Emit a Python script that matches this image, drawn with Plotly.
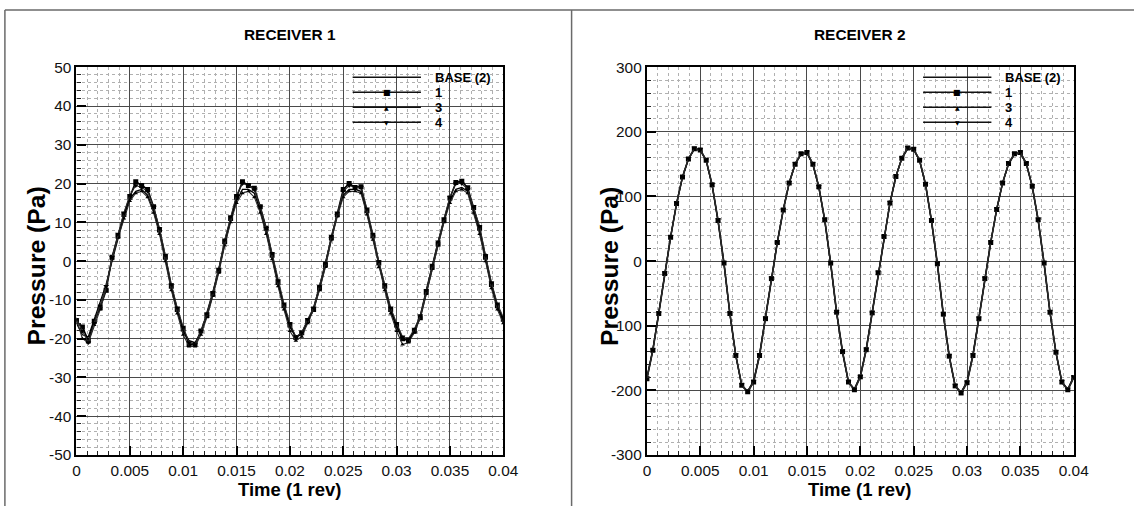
import plotly.graph_objects as go

# ---------------- data ----------------
N_STEPS = 72          # samples per 0.04 s (1 rev)
T_END = 0.04
time = [T_END * i / N_STEPS for i in range(N_STEPS + 1)]

series_names = ["BASE (2)", "1", "3", "4"]

r1_base = [-16, -19, -19.5, -15, -11, -6, 0, 6, 11.5, 16, 18, 18.5, 17, 13, 7.5, 0.5, -7, -13, -18,
           -20.5, -21, -18.5, -13.5, -8, -2, 4.5, 10.5, 15.5, 18.5, 18.5, 17.5, 13, 7.5, 1, -6, -12, -17,
           -19.5, -19, -15.5, -12, -6.5, -0.5, 6, 12, 17, 18.5, 18.5, 18, 12.5, 6, -1, -7, -13, -17,
           -20, -20.5, -18, -14, -7.5, -1, 5, 10.5, 15.5, 18.5, 19, 18, 13, 7.5, 0.5, -6.5, -12, -15.5]
r1_s1 = [-15.5, -17, -20.5, -15.5, -12, -7.5, 1, 6.5, 12, 16.5, 20.5, 19.5, 18.5, 14, 8, 1, -6.5, -12.5, -17.5,
         -21.5, -21.5, -18, -14, -8.5, -2.5, 5, 11, 16.5, 20.5, 19.5, 18.8, 14, 8.5, 1.5, -5.5, -11.5, -16.5,
         -19.7, -18.5, -15.4, -12.5, -7, -1, 6, 12, 18.5, 20, 19, 19.2, 13, 6.5, -0.5, -6.5, -12.5, -16.5,
         -20, -20.4, -18, -14.6, -8, -1.6, 4.4, 10.5, 16.3, 20.3, 20.6, 18.9, 13.8, 8.5, 1, -6, -11.5, -15]
r1_s3 = [-15, -20, -21, -16.5, -12.5, -7, 0.5, 6, 11, 15.5, 17.5, 18, 16.5, 12.5, 7, 0, -7.5, -13.5, -19,
         -22, -22, -19, -14.5, -9, -3, 4, 10, 15, 17.5, 18, 16.5, 12.5, 7, 0.5, -6.5, -12.5, -18,
         -20.5, -19.5, -16, -12.5, -7.5, -1.5, 5.5, 11.5, 16.5, 18, 18, 17.5, 12, 5.5, -1.5, -7.5, -13.5, -18,
         -21.5, -21, -18.5, -14.5, -8.5, -2, 4, 10, 15, 18, 18.5, 17.5, 12.5, 7, 0, -7, -12.5, -16]
r1_s4 = [-15, -18, -21, -16, -11.5, -6.5, 1, 7, 12.5, 17, 19.5, 19, 18, 14, 8.5, 1.5, -6, -12, -17,
         -21, -21.5, -18, -13.5, -8, -2, 5.5, 11.5, 17, 20, 19.5, 18.5, 14, 8.5, 2, -5, -11, -16,
         -19.5, -18.5, -15, -12, -6.5, -0.5, 6.5, 12.5, 18, 19.5, 19, 19, 13.5, 7, 0, -6, -12, -16,
         -19.5, -20, -17.5, -14, -7.5, -1, 5, 11, 16.5, 20, 20, 18.5, 14, 9, 1.5, -5.5, -11, -14.5]

r2_base = [-180, -136, -79, -18, 38, 89, 130, 158, 173, 172, 155, 117, 61, -5, -83, -147, -193, -201, -185,
           -144, -87, -26, 30, 80, 121, 150, 165, 167, 149, 114, 62, -5, -81, -142, -188, -198, -177,
           -135, -78, -17, 39, 90, 131, 159, 174, 173, 155, 118, 61, -6, -84, -148, -194, -203, -186,
           -144, -87, -26, 30, 80, 121, 150, 165, 167, 150, 115, 62, -5, -81, -142, -188, -198, -178]
r2_s1 = [-182, -138, -81, -19, 37, 89, 130, 158, 174, 172, 156, 118, 63, -3, -81, -146, -192, -202, -187,
         -146, -89, -27, 29, 79, 121, 150, 166, 168, 150, 115, 64, -3, -79, -140, -187, -199, -179,
         -137, -80, -18, 38, 90, 131, 159, 175, 173, 156, 119, 63, -4, -82, -147, -193, -204, -188,
         -146, -89, -27, 29, 80, 121, 151, 166, 168, 151, 116, 64, -3, -79, -141, -187, -199, -180]
r2_s3 = [-183, -139, -82, -20, 36, 88, 129, 157, 173, 171, 155, 117, 62, -4, -82, -147, -193, -203, -188,
         -147, -90, -28, 28, 78, 120, 149, 165, 167, 149, 114, 63, -4, -80, -141, -188, -200, -180,
         -138, -81, -19, 37, 89, 130, 158, 174, 172, 155, 118, 62, -5, -83, -148, -194, -205, -189,
         -147, -90, -28, 28, 79, 120, 150, 165, 167, 150, 115, 63, -4, -80, -142, -188, -200, -181]
r2_s4 = [-181, -137, -80, -18, 38, 90, 131, 159, 175, 173, 157, 119, 64, -2, -80, -145, -191, -201, -186,
         -145, -88, -26, 30, 80, 122, 151, 167, 169, 151, 116, 65, -2, -78, -139, -186, -198, -178,
         -136, -79, -17, 39, 91, 132, 160, 176, 174, 157, 120, 64, -3, -81, -146, -192, -203, -187,
         -145, -88, -26, 30, 81, 122, 152, 167, 169, 152, 117, 65, -2, -78, -140, -186, -198, -179]

x_tickvals = [0, 0.005, 0.01, 0.015, 0.02, 0.025, 0.03, 0.035, 0.04]
x_ticktext = ["0", "0.005", "0.01", "0.015", "0.02", "0.025", "0.03", "0.035", "0.04"]
y1_tickvals = [-50, -40, -30, -20, -10, 0, 10, 20, 30, 40, 50]
y1_ticktext = ["-50", "-40", "-30", "-20", "-10", "0", "10", "20", "30", "40", "50"]
y2_tickvals = [-300, -200, -100, 0, 100, 200, 300]
y2_ticktext = ["-300", "-200", "-100", "0", "100", "200", "300"]

panel_titles = ["RECEIVER 1", "RECEIVER 2"]
x_title = "Time (1 rev)"
y_title = "Pressure (Pa)"

# ---------------- figure ----------------
# Placement is given in target-picture pixels and converted to figure
# fractions; the capture showed an 8 px body margin and a slight down-scale.
BODY = 8
KX, KY = 1134 / 1158, 506 / 523
W, H = 1150, 515
FONT = "Liberation Sans, Arial, sans-serif"


def px(x):
    return (x / KX - BODY) / W


def py(y):
    return 1 - (y / KY - BODY) / H


def fs(s):
    return round(s / ((KX + KY) / 2), 1)


styles = [
    dict(line=dict(color="#000000", width=1.3), mode="lines"),
    dict(line=dict(color="#000000", width=1.6), mode="lines+markers",
         marker=dict(symbol="square", size=5, color="#000000")),
    dict(line=dict(color="#2a2a2a", width=1.1), mode="lines+markers",
         marker=dict(symbol="triangle-up", size=4, color="#000000")),
    dict(line=dict(color="#2a2a2a", width=1.1), mode="lines+markers",
         marker=dict(symbol="triangle-down", size=5, color="#000000")),
]

fig = go.Figure()
for ax_i, data in enumerate([[r1_base, r1_s1, r1_s3, r1_s4], [r2_base, r2_s1, r2_s3, r2_s4]]):
    xa = "x" if ax_i == 0 else "x2"
    ya = "y" if ax_i == 0 else "y2"
    for name, vals, st in zip(series_names, data, styles):
        fig.add_trace(go.Scatter(x=time, y=vals, name=name, xaxis=xa, yaxis=ya,
                                 showlegend=False, **st))


def axis(domain, rng, tv, tt, dtick_minor, anchor):
    return dict(
        domain=domain, range=rng, anchor=anchor,
        tickvals=tv, ticktext=tt,
        showline=True, linewidth=2.2, linecolor="black", mirror=True,
        ticks="inside", ticklen=9, tickwidth=2, tickcolor="black",
        showgrid=True, gridcolor="#4a4a4a", gridwidth=1,
        zeroline=False,
        tickfont=dict(family=FONT, size=fs(15), color="#111111"),
        minor=dict(dtick=dtick_minor, tick0=0, ticks="inside", ticklen=4, tickwidth=1,
                   tickcolor="#222222", showgrid=True, gridcolor="#b0b0b0",
                   griddash="dot", gridwidth=1),
    )


L_X = [px(80), px(505)]
R_X = [px(648), px(1073)]
Y_D = [py(454), py(66)]

fig.update_layout(
    width=W, height=H, autosize=False,
    margin=dict(l=0, r=0, t=0, b=0),
    paper_bgcolor="white", plot_bgcolor="white",
    font=dict(family=FONT, color="#000000"),
    xaxis=axis(L_X, [0, 0.04], x_tickvals, x_ticktext, 0.001, "y"),
    yaxis=axis(Y_D, [-50, 50], y1_tickvals, y1_ticktext, 2, "x"),
    xaxis2=axis(R_X, [0, 0.04], x_tickvals, x_ticktext, 0.001, "y2"),
    yaxis2=axis(Y_D, [-300, 300], y2_tickvals, y2_ticktext, 20, "x2"),
    showlegend=False,
)

shapes = []
annotations = []
# frame
frame_col = "#6a6a6a"
fx0, fy0 = max(px(6), 0.0008), min(py(6), 0.998)
shapes.append(dict(type="line", xref="paper", yref="paper", x0=fx0, x1=1, y0=fy0, y1=fy0,
                   line=dict(color=frame_col, width=1.5)))
shapes.append(dict(type="line", xref="paper", yref="paper", x0=fx0, x1=fx0, y0=fy0, y1=0,
                   line=dict(color=frame_col, width=1.5)))
shapes.append(dict(type="line", xref="paper", yref="paper", x0=px(573), x1=px(573), y0=fy0, y1=0,
                   line=dict(color=frame_col, width=1.5)))

marker_glyphs = ["", "■", "▲", "▼"]
marker_sizes = [0, 8, 6, 6]

for i, off in enumerate([0, 568]):
    cx = (80 + 505) / 2 + off
    annotations.append(dict(text="<b>%s</b>" % panel_titles[i], xref="paper", yref="paper",
                            x=px(cx), y=py(33), showarrow=False, xanchor="center", yanchor="middle",
                            font=dict(family=FONT, size=fs(15), color="#000")))
    annotations.append(dict(text="<b>%s</b>" % x_title, xref="paper", yref="paper",
                            x=px(cx), y=py(488), showarrow=False, xanchor="center", yanchor="middle",
                            font=dict(family=FONT, size=fs(18), color="#000")))
    annotations.append(dict(text="<b>%s</b>" % y_title, xref="paper", yref="paper",
                            x=px(40 + off + (2 if i else 0)), y=py(265), showarrow=False, textangle=-90,
                            xanchor="center", yanchor="middle",
                            font=dict(family=FONT, size=fs(24), color="#000")))
    # legend
    for k, name in enumerate(series_names):
        yy = 76 + 15 * k
        shapes.append(dict(type="line", xref="paper", yref="paper",
                           x0=px(355 + off), x1=px(423 + off), y0=py(yy), y1=py(yy),
                           line=dict(color="#111", width=1.4)))
        if marker_glyphs[k]:
            annotations.append(dict(text=marker_glyphs[k], xref="paper", yref="paper",
                                    x=px(389 + off), y=py(yy), showarrow=False,
                                    xanchor="center", yanchor="middle",
                                    font=dict(family="DejaVu Sans", size=marker_sizes[k], color="#000")))
        annotations.append(dict(text="<b>%s</b>" % name, xref="paper", yref="paper",
                                x=px(435 + off), y=py(yy), showarrow=False,
                                xanchor="left", yanchor="middle",
                                font=dict(family=FONT, size=13, color="#000")))

fig.update_layout(shapes=shapes, annotations=annotations)
fig.write_html("out.html")
